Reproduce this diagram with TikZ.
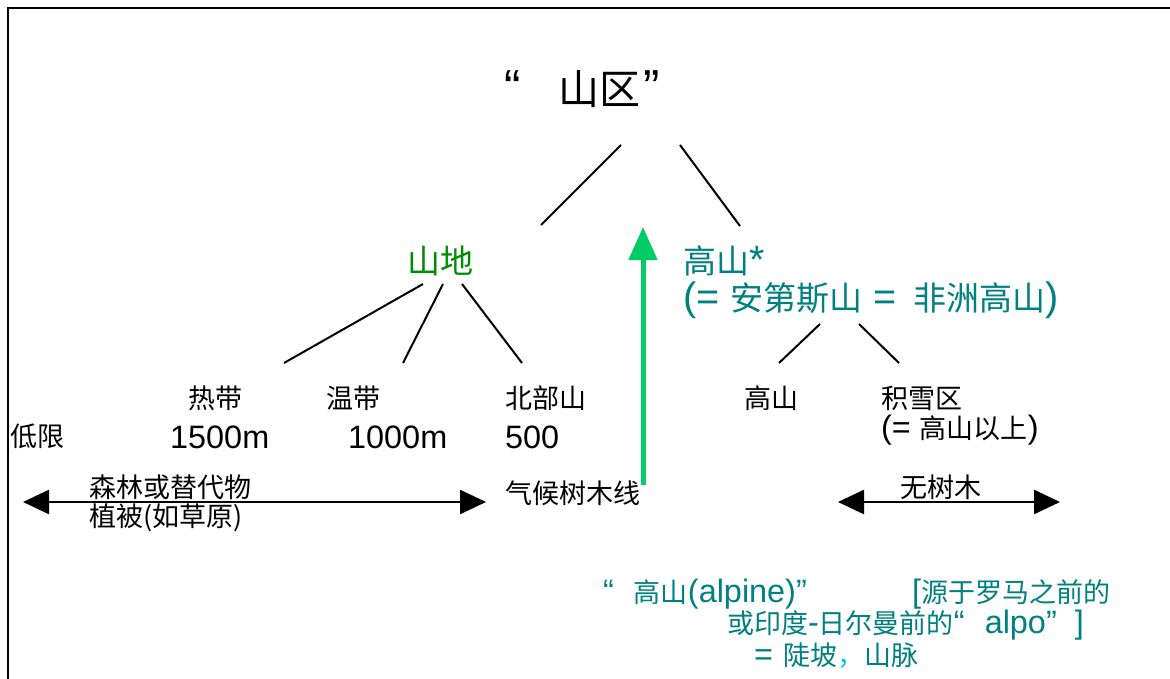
\documentclass[tikz,border=0pt]{standalone}
\usepackage{fontspec}
\setmainfont{Noto Sans CJK SC}
\newfontfamily\lat{Liberation Sans}[Scale=1.2]
\usetikzlibrary{arrows.meta}
\definecolor{tealc}{RGB}{0,128,128}
\definecolor{greenc}{RGB}{0,140,0}
\definecolor{arrowgreen}{RGB}{0,204,102}
\definecolor{commac}{RGB}{0,204,220}
\begin{document}
\begin{tikzpicture}[x=1pt,y=-1pt,
  lbl/.style={anchor=west,inner sep=0pt,font=\fontsize{27}{32}\selectfont},
  mid/.style={anchor=west,inner sep=0pt,font=\fontsize{33}{40}\selectfont},
  big/.style={anchor=west,inner sep=0pt,font=\fontsize{41}{50}\selectfont},
  conn/.style={line width=2pt},
  dbl/.style={line width=2.5pt,{Triangle[length=26pt,width=24pt]}-{Triangle[length=26pt,width=24pt]}},
  up/.style={line width=5pt,arrowgreen,-{Triangle[length=33pt,width=28pt]}},
]
\useasboundingbox (0,0) rectangle (1170,679);
\fill[white] (0,0) rectangle (1170,679);
\draw[line width=2.5pt] (8,690) -- (8,8) -- (1180,8);

% texts
\node[big] (title) at (504,89) {{\lat “}\hspace{38pt}山区\hspace{3pt}{\lat ”}};
\node[mid,text=greenc] (shandi) at (407,261) {山地};
\node[mid,text=tealc] (gaoshanstar) at (683,261) {高山{\lat *}};
\node[mid,text=tealc] (andes) at (683,300) {{\lat (= }安第斯山{\lat\ =\ }\hspace{6pt}非洲高山{\lat )}};

\node[lbl] (redai) at (188,398) {热带};
\node[lbl] (wendai) at (326,398) {温带};
\node[lbl] (beibu) at (505,398) {北部山};
\node[lbl] (gaoshan) at (744,398) {高山};
\node[lbl] (jixue) at (881,398) {积雪区};
\node[lbl] (jixue2) at (881,430) {{\lat (= }高山以上{\lat )}};

\node[lbl] (dixian) at (10,436) {低限};
\node[lbl] (m1500) at (170,437) {\lat 1500m};
\node[lbl] (m1000) at (348,437) {\lat 1000m};
\node[lbl] (m500) at (505,437) {\lat 500};

\node[lbl] (senlin) at (89,487) {森林或替代物};
\node[lbl] (zhibei) at (89,518) {植被(如草原)};
\node[lbl] (qihou) at (505,493) {气候树木线};
\node[lbl] (wushu) at (900,487) {无树木};

\node[lbl,text=tealc] (alpine) at (603,594) {{\lat “}\hspace{20pt}高山{\lat (alpine)”}};
\node[lbl,text=tealc] (yuanyu) at (912,594) {{\lat [}源于罗马之前的};
\node[lbl,text=tealc] (yindu) at (727,625) {或印度{\lat -}日尔曼前的{\lat “}\hspace{20pt}{\lat alpo”}\hspace{18pt}{\lat ]}};
\node[lbl,text=tealc] (doupo) at (754,656) {{\lat =}\hspace{10pt}陡坡\textcolor{commac}{，}山脉};

% connector end points
\coordinate (t1) at (621,145); \coordinate (t2) at (541,225);
\coordinate (t3) at (680,145); \coordinate (t4) at (740,226);
\coordinate (s0a) at (423,284); \coordinate (s1) at (284,363);
\coordinate (s0b) at (443,284); \coordinate (s2) at (403,363);
\coordinate (s0c) at (462,284); \coordinate (s3) at (522,363);
\coordinate (g0a) at (820,324); \coordinate (g1) at (779,363);
\coordinate (g0b) at (859,324); \coordinate (g2) at (899,363);
\coordinate (la) at (23,502); \coordinate (lb) at (486,502);
\coordinate (ra) at (838,502); \coordinate (rb) at (1060,502);
\coordinate (ga) at (643,485); \coordinate (gb) at (643,227);

\draw[conn] (t1) -- (t2);
\draw[conn] (t3) -- (t4);
\draw[conn] (s0a) -- (s1);
\draw[conn] (s0b) -- (s2);
\draw[conn] (s0c) -- (s3);
\draw[conn] (g0a) -- (g1);
\draw[conn] (g0b) -- (g2);
\draw[dbl] (la) -- (lb);
\draw[dbl] (ra) -- (rb);
\draw[up] (ga) -- (gb);
\end{tikzpicture}
\end{document}
